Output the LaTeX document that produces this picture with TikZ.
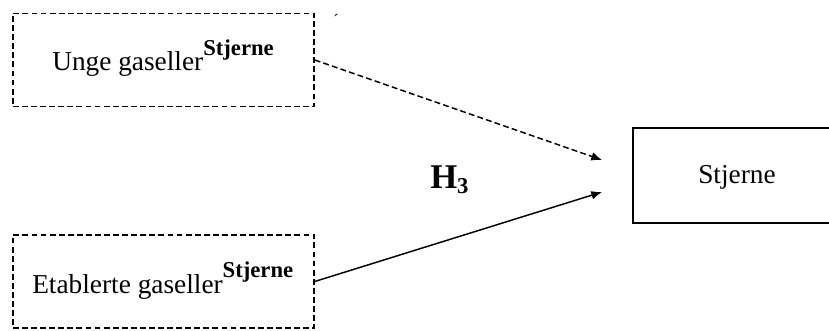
\documentclass[tikz,border=0pt]{standalone}
\usepackage{fontspec}
\setmainfont{Liberation Serif}
\usetikzlibrary{arrows.meta}
\begin{document}
\begin{tikzpicture}[x=0.75pt,y=-0.75pt,
  dline/.style={dash pattern=on 4.4pt off 2.4pt},
  dbox/.style={draw,dline,line width=1.15pt,inner sep=0pt,minimum width=225.75pt,minimum height=70pt},
  sbox/.style={draw,line width=1.1pt,inner sep=0pt,minimum width=165pt,minimum height=71.25pt},
  txt/.style={inner sep=0pt,anchor=base west,font=\fontsize{20.5pt}{24pt}\selectfont},
  arr/.style={-{Latex[length=8pt,width=6.5pt]},line width=1.1pt}]
\useasboundingbox (0,0) rectangle (829,331);
\clip (0,0) rectangle (829,331);
\node[dbox] (unge) at (163.5,60) {};
\node[dbox] (etab) at (163.5,281.5) {};
\node[sbox] (stj) at (743,175.5) {};
\node[txt] (ungetxt) at (52,71) {Unge gaseller\raisebox{11.25pt}{\fontsize{17pt}{18pt}\selectfont\bfseries Stjerne}};
\node[txt] (etabtxt) at (32,294) {Etablerte gaseller\raisebox{12pt}{\fontsize{17pt}{18pt}\selectfont\bfseries Stjerne}};
\node[txt] (stjtxt) at (698,184) {Stjerne};
\node[inner sep=0pt,anchor=base west,font=\fontsize{26pt}{30pt}\selectfont\bfseries] (h3) at (430,189) {H\raisebox{-3.75pt}{\fontsize{17pt}{18pt}\selectfont 3}};
\node[inner sep=0pt,font=\fontsize{12pt}{14pt}\selectfont] (mark) at (336,20) {´};
\coordinate (tipA) at (602,160);
\coordinate (tipB) at (602,192);
\draw[arr,dline] (unge.east) -- (tipA);
\draw[arr] (etab.east) -- (tipB);
\end{tikzpicture}
\end{document}
